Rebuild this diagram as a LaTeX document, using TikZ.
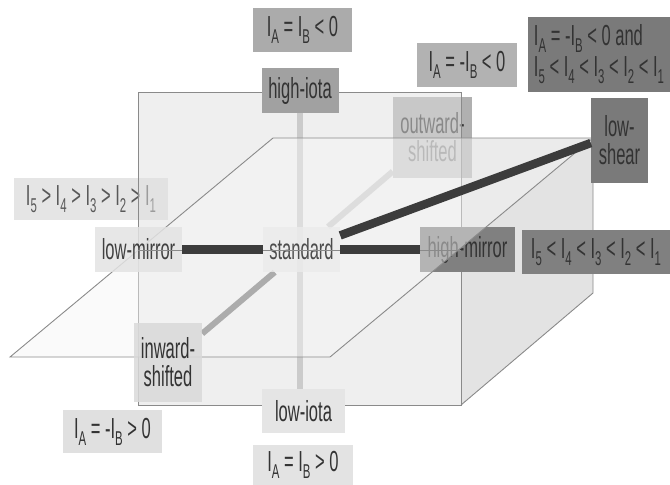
\documentclass[tikz,border=0pt]{standalone}
\usepackage{fontspec}
\setmainfont{Liberation Sans}[FakeStretch=0.57]
\usetikzlibrary{positioning}
\definecolor{edgegray}{HTML}{8A8A8A}
\definecolor{bardark}{HTML}{3C3C3C}
\definecolor{axisgray}{HTML}{B6B6B6}
\definecolor{inaxis}{HTML}{ACACAC}
\newcommand{\isub}[1]{\raisebox{-7pt}{\fontsize{20}{20}\selectfont #1}}

\begin{document}
\begin{tikzpicture}[x=1pt,y=-1pt,
    box/.style={inner sep=0pt, text=black!80, align=center,
      font=\fontsize{29}{28}\selectfont},
    sz/.style 2 args={minimum width=#1pt, minimum height=#2pt},
    frame/.style={draw=edgegray, line width=0.9pt},
    bar/.style={draw=bardark, line width=9pt},
    axis/.style={draw=axisgray, line width=6pt}]
  \useasboundingbox (0,0) rectangle (670,485);

  % right face of the box
  \fill[black!11] (461,138) -- (593,138) -- (593,293) -- (461,405) -- cycle;
  \draw[frame] (593,138) -- (593,293) -- (461,405);

  % nodes behind the planes
  \node[box,sz={77}{45}] (standard) at (301.5,249.5) {};
  \node[box,sz={77}{45}] (hiota) at (300,90.5) {};
  \node[box,sz={83}{44}] (loiota) at (303.5,411) {};
  \node[box,sz={79}{81}] (outward) at (432.5,137.5) {};
  \node[box,sz={68}{79}] (inward) at (168,362.5) {};
  \draw[axis] (hiota) -- (hiota |- loiota);
  \draw[axis] (standard) -- (outward);
  \node[box,sz={79}{81},fill=black!31] at (outward) {outward-\\shifted};
  \node[box,sz={154}{42},fill=black!10,text=black!65] (lmcond) at (91,199)
    {I\isub{5} > I\isub{4} > I\isub{3} > I\isub{2} > I\isub{1}};

  % vertical plane
  \fill[black!12,fill opacity=0.5] (138,92) rectangle (461,405);
  \draw[frame] (138,92) rectangle (461,405);

  \node[box,sz={95}{45},fill=black!50] (himirror) at (467.5,249.5) {high-mirror};

  % horizontal plane
  \fill[black!4,fill opacity=0.45] (273,138) -- (593,138) -- (330,357) -- (10,357) -- cycle;
  \draw[frame] (273,138) -- (593,138) -- (330,357) -- (10,357) -- cycle;

  \draw[line width=6pt,draw=inaxis] (standard) -- (inward);
  \node[box,sz={77}{45},fill=black!8,fill opacity=0.8,text opacity=1,text=black!70]
    at (standard) {standard};
  \node[box,sz={87}{45},fill=black!11,fill opacity=0.85,text opacity=1,text=black!75]
    (lomirror) at (138.5,249.5) {low-mirror};
  \draw[frame] (138,250) -- (461,250);

  \node[box,sz={57}{85},fill=black!52] (loshear) at (619.5,140.5) {low-\\shear};
  \draw[bar] (lomirror) -- (standard);
  \draw[bar] (standard) -- (himirror);
  \draw[bar,line width=8.5pt] (standard.20) -- (loshear.185);

  % front nodes
  \node[box,sz={77}{45},fill=black!37] at (hiota) {high-iota};
  \node[box,sz={83}{44},fill=black!10] at (loiota) {low-iota};
  \node[box,sz={68}{79},fill=black!15,fill opacity=0.85,text opacity=1] at (inward) {inward-\\shifted};

  % condition labels
  \node[box,sz={99}{44},fill=black!33] (hicond) at (302.5,30)
    {I\isub{A} = I\isub{B} < 0};
  \node[box,sz={100}{44},fill=black!30] (oscond) at (467,65)
    {I\isub{A} = -I\isub{B} < 0};
  \node[box,sz={142}{75},fill=black!52,align=left,font=\fontsize{29}{31}\selectfont]
    (lscond) at (599,54.5)
    {I\isub{A} = -I\isub{B} < 0 and\\I\isub{5} < I\isub{4} < I\isub{3} < I\isub{2} < I\isub{1}};
  \node[box,sz={148}{44},fill=black!50] (hmcond) at (596,252)
    {I\isub{5} < I\isub{4} < I\isub{3} < I\isub{2} < I\isub{1}};
  \node[box,sz={99}{43},fill=black!12] (iscond) at (112.5,431.5)
    {I\isub{A} = -I\isub{B} > 0};
  \node[box,sz={100}{40},fill=black!11] (locond) at (303,465)
    {I\isub{A} = I\isub{B} > 0};
\end{tikzpicture}
\end{document}
